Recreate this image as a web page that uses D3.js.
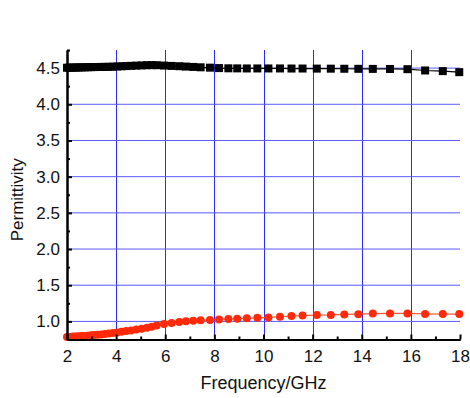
<!DOCTYPE html>
<html>
<head>
<meta charset="utf-8">
<script src="https://cdn.jsdelivr.net/npm/d3@7/dist/d3.min.js"></script>
<style>
  html, body { margin: 0; padding: 0; background: #fff; }
  svg { display: block; font-family: "Liberation Sans", Arial, Helvetica, sans-serif; }
</style>
</head>
<body>
<div id="chart"></div>
<script>
// Frequency sampling (GHz)
const freq = [2.00, 2.09, 2.18, 2.28, 2.38, 2.49, 2.60, 2.72, 2.84, 2.97, 3.10, 3.24, 3.39, 3.54, 3.70,
  3.87, 4.04, 4.22, 4.41, 4.61, 4.82, 5.04, 5.26, 5.45, 5.65, 5.95, 6.26, 6.57, 6.84, 7.14, 7.44, 7.82,
  8.19, 8.57, 8.93, 9.32, 9.75, 10.20, 10.67, 11.14, 11.59, 12.17, 12.74, 13.29, 13.86, 14.45, 15.15,
  15.86, 16.58, 17.30, 17.97];

// Upper series (black squares)
const seriesA = [4.505, 4.506, 4.506, 4.507, 4.508, 4.509, 4.510, 4.511, 4.512, 4.513, 4.514, 4.515, 4.516, 4.517, 4.518,
  4.520, 4.522, 4.525, 4.528, 4.531, 4.534, 4.537, 4.540, 4.541, 4.540, 4.535, 4.530, 4.526, 4.521, 4.516, 4.511, 4.506,
  4.500, 4.497, 4.496, 4.495, 4.495, 4.495, 4.495, 4.494, 4.494, 4.493, 4.492, 4.491, 4.490, 4.489, 4.488,
  4.485, 4.467, 4.458, 4.444];

// Lower series (red circles)
const seriesB = [0.785, 0.786, 0.788, 0.790, 0.792, 0.794, 0.797, 0.800, 0.803, 0.807, 0.811, 0.815, 0.820, 0.826, 0.832,
  0.840, 0.848, 0.856, 0.866, 0.876, 0.888, 0.900, 0.912, 0.925, 0.945, 0.963, 0.978, 0.993, 1.003, 1.010, 1.015, 1.020,
  1.028, 1.034, 1.038, 1.042, 1.050, 1.055, 1.064, 1.073, 1.080, 1.087, 1.089, 1.096, 1.100, 1.108, 1.110,
  1.110, 1.103, 1.101, 1.101];

const xTicks = [2, 4, 6, 8, 10, 12, 14, 16, 18];
const yTicks = [1.0, 1.5, 2.0, 2.5, 3.0, 3.5, 4.0, 4.5];

const W = 470, H = 398;
const margin = { top: 50, right: 10, bottom: 58.5, left: 67 };
const width = W - margin.left - margin.right;
const height = H - margin.top - margin.bottom;

const svg = d3.select('#chart').append('svg')
  .attr('width', W).attr('height', H);

const g = svg.append('g')
  .attr('transform', `translate(${margin.left},${margin.top})`);

const x = d3.scaleLinear().domain([2, 18]).range([0, width]);
const y = d3.scaleLinear().domain([0.75, 4.75]).range([height, 0]);

// grid lines
g.append('g').selectAll('line.vg')
  .data(xTicks.filter(t => t > 2 && t < 18))
  .join('line')
    .attr('x1', d => Math.round(x(d)) + 0.5).attr('x2', d => Math.round(x(d)) + 0.5)
    .attr('y1', 0).attr('y2', height)
    .attr('stroke', '#2a2aff').attr('stroke-width', 1);

g.append('g').selectAll('line.hg')
  .data(yTicks)
  .join('line')
    .attr('x1', 0).attr('x2', width)
    .attr('y1', d => y(d)).attr('y2', d => y(d))
    .attr('stroke', '#5a5aff').attr('stroke-width', 1);

// data lines and markers
const line = d3.line().x((d, i) => x(freq[i])).y(d => y(d));

g.append('path').datum(seriesB)
  .attr('d', line).attr('fill', 'none')
  .attr('stroke', '#ff5a3a').attr('stroke-width', 1.2);

g.append('g').selectAll('circle')
  .data(seriesB)
  .join('circle')
    .attr('cx', (d, i) => x(freq[i]))
    .attr('cy', d => y(d))
    .attr('r', 4)
    .attr('fill', '#ff2a0a');

g.append('path').datum(seriesA)
  .attr('d', line).attr('fill', 'none')
  .attr('stroke', '#000').attr('stroke-width', 1.2);

g.append('g').selectAll('rect')
  .data(seriesA)
  .join('rect')
    .attr('x', (d, i) => x(freq[i]) - 4)
    .attr('y', d => y(d) - 4)
    .attr('width', 8).attr('height', 8)
    .attr('fill', '#000');

// axes (ticks pointing inward)
const xAxis = d3.axisBottom(x).tickValues(xTicks).tickFormat(d3.format('d'))
  .tickSizeInner(-5).tickSizeOuter(0).tickPadding(10);
const xAxisG = g.append('g').attr('transform', `translate(0,${height})`).call(xAxis);

const xMinor = d3.axisBottom(x).tickValues([3, 5, 7, 9, 11, 13, 15, 17]).tickFormat('')
  .tickSizeInner(-3).tickSizeOuter(0);
const xMinorG = g.append('g').attr('transform', `translate(0,${height})`).call(xMinor);

const yAxis = d3.axisLeft(y).tickValues(yTicks).tickFormat(d3.format('.1f'))
  .tickSizeInner(-5).tickSizeOuter(0).tickPadding(7);
const yAxisG = g.append('g').call(yAxis);

const yMinor = d3.axisLeft(y).tickValues([1.25, 1.75, 2.25, 2.75, 3.25, 3.75, 4.25, 4.75]).tickFormat('')
  .tickSizeInner(-3).tickSizeOuter(0);
const yMinorG = g.append('g').call(yMinor);

[xAxisG, xMinorG, yAxisG, yMinorG].forEach(a => {
  a.select('.domain').attr('stroke', '#000').attr('stroke-width', 2);
  a.selectAll('.tick line').attr('stroke', '#000').attr('stroke-width', 2);
  a.selectAll('.tick text')
    .attr('fill', '#111')
    .style('font-family', '"Liberation Sans", Arial, sans-serif')
    .style('font-size', '17px');
});

// axis titles
svg.append('text')
  .attr('x', margin.left + width / 2).attr('y', 389)
  .attr('text-anchor', 'middle')
  .attr('font-size', '18px').attr('fill', '#111')
  .text('Frequency/GHz');

svg.append('text')
  .attr('transform', `translate(23,${margin.top + height / 2 + 5}) rotate(-90)`)
  .attr('text-anchor', 'middle')
  .attr('font-size', '17px').attr('fill', '#111')
  .text('Permittivity');
</script>
</body>
</html>
